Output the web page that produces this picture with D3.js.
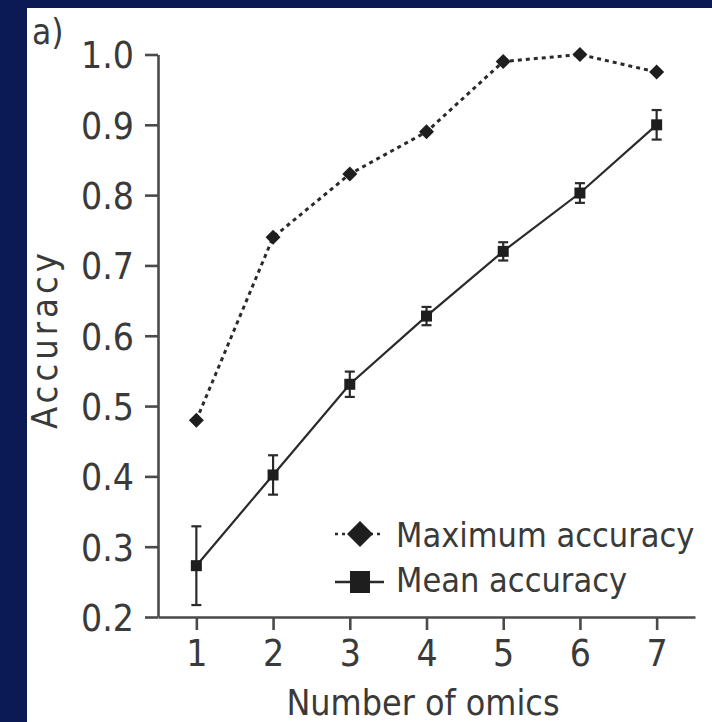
<!DOCTYPE html>
<html>
<head>
<meta charset="utf-8">
<style>
  html, body { margin: 0; padding: 0; background: #0b1a55; }
  svg { display: block; }
  text { font-family: "DejaVu Sans Condensed", "DejaVu Sans", sans-serif; font-stretch: condensed; fill: #3a3a3a; }
</style>
</head>
<body>
<svg id="chart" width="712" height="722"></svg>
<script src="https://cdn.jsdelivr.net/npm/d3@7"></script>
<script>
// data
var omics = [1, 2, 3, 4, 5, 6, 7];
var maxAcc = [0.48, 0.74, 0.83, 0.89, 0.99, 1.0, 0.975];
var meanAcc = [0.273, 0.402, 0.531, 0.628, 0.72, 0.803, 0.90];
var meanErr = [0.056, 0.028, 0.018, 0.013, 0.013, 0.014, 0.021];
var yTicks = [0.2, 0.3, 0.4, 0.5, 0.6, 0.7, 0.8, 0.9, 1.0];
var legendLabels = ["Maximum accuracy", "Mean accuracy"];

var svg = d3.select("#chart");

// white panel on navy background
svg.append("rect")
  .attr("x", 27).attr("y", 8)
  .attr("width", 685).attr("height", 714)
  .attr("fill", "#ffffff");

var x = d3.scaleLinear().domain([0.5, 7.5]).range([158, 695]);
var y = d3.scaleLinear().domain([0.2, 1.0]).range([617, 54.5]);

var axisColor = "#4a4a4a";

// y axis
var yAxis = svg.append("g")
  .attr("transform", "translate(158,0)")
  .call(d3.axisLeft(y).tickValues(yTicks).tickSize(13).tickSizeOuter(0).tickPadding(11)
    .tickFormat(d3.format(".1f")));
yAxis.selectAll("text").style("font-size", "37px").attr("dy", "0.36em");

// x axis
var xAxis = svg.append("g")
  .attr("transform", "translate(0,617)")
  .call(d3.axisBottom(x).tickValues(omics).tickSize(13).tickSizeOuter(0).tickPadding(10)
    .tickFormat(d3.format("d")));
xAxis.selectAll("text").style("font-size", "37px");

svg.selectAll(".domain, .tick line")
  .attr("stroke", axisColor).attr("stroke-width", 2.6);
svg.selectAll(".tick text").attr("fill", "#3a3a3a");

// axis titles
svg.append("text")
  .attr("x", 423).attr("y", 715)
  .attr("text-anchor", "middle")
  .style("font-size", "35.5px")
  .text("Number of omics");

svg.append("text")
  .attr("transform", "translate(57,341) rotate(-90)")
  .attr("text-anchor", "middle")
  .attr("textLength", 176)
  .attr("lengthAdjust", "spacing")
  .style("font-size", "36px")
  .text("Accuracy");

svg.append("text")
  .attr("x", 32).attr("y", 44)
  .style("font-size", "35px")
  .text("a)");

// series
var lineMax = d3.line().x(function(d, i) { return x(omics[i]); }).y(function(d) { return y(d); });

svg.append("path")
  .datum(maxAcc)
  .attr("d", lineMax)
  .attr("fill", "none")
  .attr("stroke", "#2a2a2a")
  .attr("stroke-width", 3)
  .attr("stroke-dasharray", "4,4");

svg.append("path")
  .datum(meanAcc)
  .attr("d", lineMax)
  .attr("fill", "none")
  .attr("stroke", "#2a2a2a")
  .attr("stroke-width", 2.2);

// error bars
var eb = svg.append("g").attr("stroke", "#2a2a2a").attr("stroke-width", 2.2);
omics.forEach(function(o, i) {
  var cx = x(o), lo = y(meanAcc[i] - meanErr[i]), hi = y(meanAcc[i] + meanErr[i]);
  eb.append("line").attr("x1", cx).attr("x2", cx).attr("y1", lo).attr("y2", hi);
  eb.append("line").attr("x1", cx - 5).attr("x2", cx + 5).attr("y1", lo).attr("y2", lo);
  eb.append("line").attr("x1", cx - 5).attr("x2", cx + 5).attr("y1", hi).attr("y2", hi);
});

function diamond(cx, cy, r) {
  return "M" + cx + "," + (cy - r) + "L" + (cx + r) + "," + cy + "L" + cx + "," + (cy + r) + "L" + (cx - r) + "," + cy + "Z";
}

svg.selectAll(".dmark")
  .data(maxAcc)
  .enter().append("path")
  .attr("class", "dmark")
  .attr("d", function(d, i) { return diamond(x(omics[i]), y(d), 7.5); })
  .attr("fill", "#1e1e1e");

svg.selectAll(".smark")
  .data(meanAcc)
  .enter().append("rect")
  .attr("class", "smark")
  .attr("x", function(d, i) { return x(omics[i]) - 5.5; })
  .attr("y", function(d) { return y(d) - 5.5; })
  .attr("width", 11).attr("height", 11)
  .attr("fill", "#1e1e1e");

// legend
var lg = svg.append("g");
lg.append("line").attr("x1", 335).attr("x2", 384).attr("y1", 534).attr("y2", 534)
  .attr("stroke", "#2a2a2a").attr("stroke-width", 2.5).attr("stroke-dasharray", "3,4");
lg.append("path").attr("d", diamond(360, 534, 13)).attr("fill", "#1e1e1e");
lg.append("line").attr("x1", 335).attr("x2", 384).attr("y1", 582).attr("y2", 582)
  .attr("stroke", "#2a2a2a").attr("stroke-width", 2.5);
lg.append("rect").attr("x", 350).attr("y", 571).attr("width", 20).attr("height", 22).attr("fill", "#1e1e1e");

lg.selectAll(".ltext")
  .data(legendLabels)
  .enter().append("text")
  .attr("class", "ltext")
  .attr("x", 396)
  .attr("y", function(d, i) { return 547 + i * 45; })
  .style("font-size", "34px")
  .text(function(d) { return d; });
</script>
</body>
</html>
